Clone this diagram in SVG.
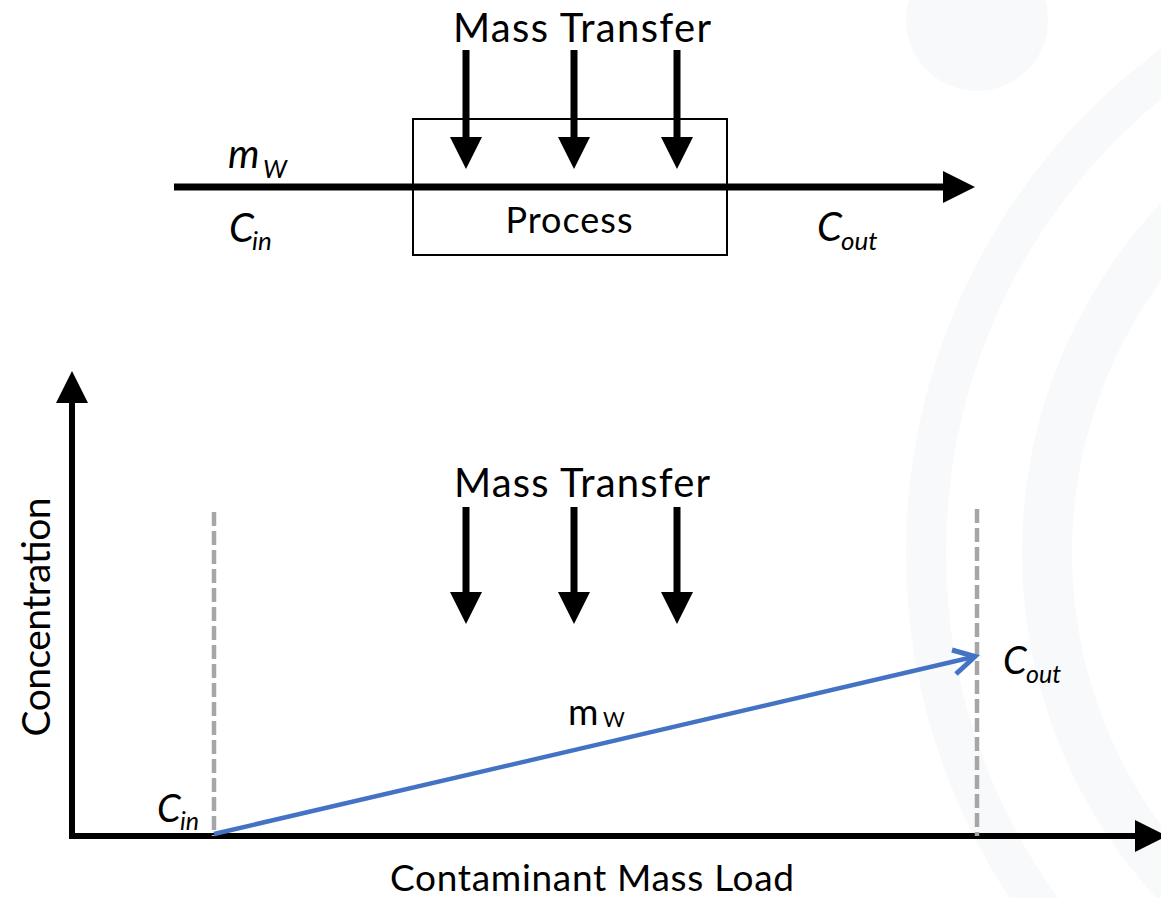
<svg xmlns="http://www.w3.org/2000/svg" width="1161" height="898" viewBox="0 0 1161 898">
<style>
  text { font-family: Lato, "Liberation Sans", sans-serif; fill: #000; }
  .it { font-style: italic; }
  .blk { stroke: #000; stroke-width: 7; fill: none; }
  .axis { stroke: #000; stroke-width: 6; fill: none; }
  .dash { stroke: #a6a6a6; stroke-width: 4.5; stroke-dasharray: 14 5; fill: none; }
  .wm { fill: none; stroke: #f8f9fb; }
</style>
<defs>
  <marker id="tri" viewBox="0 0 32 32" markerWidth="32" markerHeight="32" refX="1" refY="16" orient="auto" markerUnits="userSpaceOnUse">
    <path d="M0,0 L32,16 L0,32 Z" fill="#000"/>
  </marker>
</defs>
<rect width="1161" height="898" fill="#fff"/>
<g id="watermark">
  <circle cx="977" cy="20" r="71" fill="#f8f9fb"/>
  <circle class="wm" cx="1532" cy="553" r="606" stroke-width="40"/>
  <circle class="wm" cx="1532" cy="553" r="485" stroke-width="50"/>
</g>
<g id="connectors">
  <line class="blk" x1="174" y1="187" x2="944" y2="187" marker-end="url(#tri)"/>
  <line class="blk" x1="466" y1="50" x2="466" y2="138" marker-end="url(#tri)"/>
  <line class="blk" x1="574" y1="50" x2="574" y2="138" marker-end="url(#tri)"/>
  <line class="blk" x1="677" y1="50" x2="677" y2="138" marker-end="url(#tri)"/>
  <line class="blk" x1="466" y1="507" x2="466" y2="593" marker-end="url(#tri)"/>
  <line class="blk" x1="574" y1="507" x2="574" y2="593" marker-end="url(#tri)"/>
  <line class="blk" x1="677" y1="507" x2="677" y2="593" marker-end="url(#tri)"/>
  <line class="axis" x1="72" y1="839" x2="72" y2="402" marker-end="url(#tri)"/>
  <line class="axis" x1="69" y1="836" x2="1136" y2="836" marker-end="url(#tri)"/>
  <line class="dash" x1="214" y1="512" x2="214" y2="836"/>
  <line class="dash" x1="977" y1="509" x2="977" y2="836"/>
  <line x1="214" y1="834" x2="973" y2="657" stroke="#4472c4" stroke-width="4.5"/>
  <polyline points="952,650 975,656.5 956,674" fill="none" stroke="#4472c4" stroke-width="5" stroke-linejoin="miter"/>
</g>
<g id="process">
  <rect x="413" y="119" width="314" height="136" fill="none" stroke="#000" stroke-width="2"/>
  <text x="569" y="233" font-size="36" text-anchor="middle" textLength="127">Process</text>
</g>
<g id="top-labels">
  <text x="582" y="42" font-size="40" text-anchor="middle" textLength="258">Mass Transfer</text>
  <text class="it" x="228" y="168" font-size="40">m</text>
  <text class="it" x="263" y="178" font-size="25">W</text>
  <text class="it" x="229" y="242" font-size="40">C</text>
  <text class="it" x="252" y="250" font-size="26">in</text>
  <text class="it" x="817" y="241" font-size="40">C</text>
  <text class="it" x="841" y="250" font-size="26">out</text>
</g>
<g id="chart-labels">
  <text x="582" y="497" font-size="40" text-anchor="middle" textLength="256">Mass Transfer</text>
  <text x="568" y="725" font-size="37">m</text>
  <text x="603" y="727" font-size="21">W</text>
  <text class="it" x="157" y="822" font-size="38">C</text>
  <text class="it" x="180" y="830" font-size="25">in</text>
  <text class="it" x="1003" y="674" font-size="38">C</text>
  <text class="it" x="1026" y="683" font-size="25">out</text>
  <text x="592" y="891" font-size="37" text-anchor="middle" textLength="404">Contaminant Mass Load</text>
  <text transform="translate(50,617) rotate(-90)" font-size="39" text-anchor="middle" textLength="239">Concentration</text>
</g>
</svg>
